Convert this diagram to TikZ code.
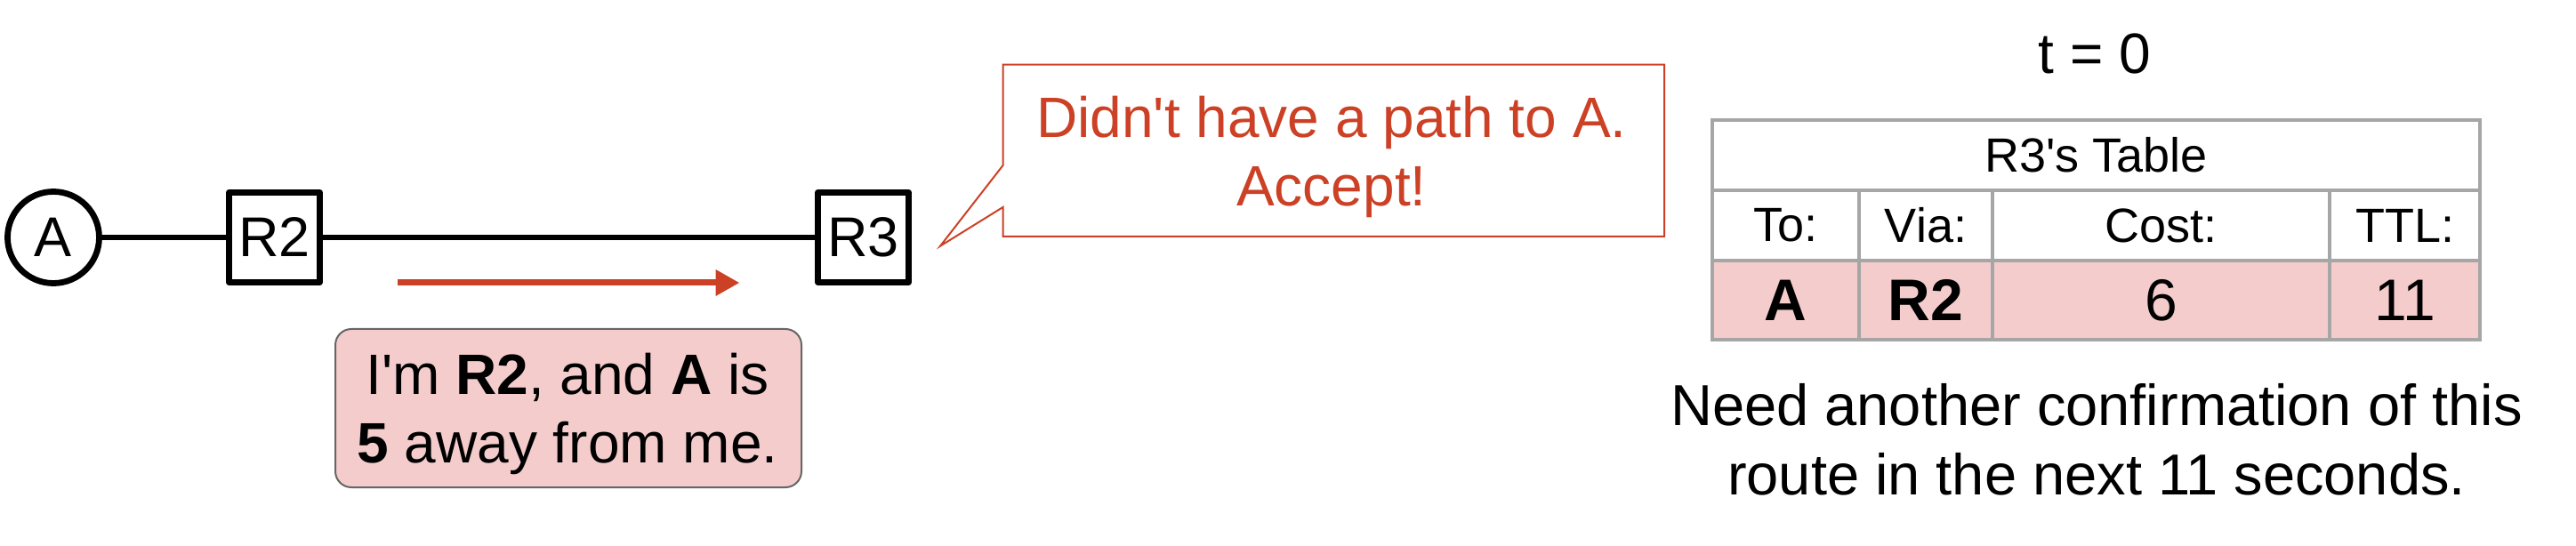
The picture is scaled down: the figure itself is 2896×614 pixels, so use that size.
\documentclass[tikz,border=0pt]{standalone}
\usepackage{fontspec}
\setmainfont{Liberation Sans}[Ligatures=TeXOff]
\usetikzlibrary{arrows.meta}
\definecolor{redc}{HTML}{CC4125}
\definecolor{pinkc}{HTML}{F4CCCC}
\definecolor{grayb}{HTML}{666666}
\definecolor{tblb}{HTML}{A6A6A6}
\begin{document}
\begin{tikzpicture}[x=0.5pt,y=-0.5pt,
  netnode/.style={draw, line width=3.4pt, line join=round, inner sep=0pt, font=\fontsize{31.5}{36}\selectfont},
  router/.style={netnode, rectangle, minimum width=51pt, minimum height=50.5pt},
  host/.style={netnode, circle, minimum size=51.5pt},
  link/.style={line width=3pt},
  msgbox/.style={draw=grayb, fill=pinkc, line width=1pt, rounded corners=9pt, minimum width=262pt, minimum height=89pt, inner sep=0pt},
  msgtext/.style={align=center, inner sep=0pt, font=\fontsize{32}{38.5}\selectfont},
  cell/.style={draw=tblb, line width=1.6pt, inner sep=0pt, outer sep=0pt, font=\fontsize{27}{32}\selectfont, minimum height=39.5pt},
  dcell/.style={cell, fill=pinkc, minimum height=44.5pt, font=\fontsize{33}{38}\selectfont}
]
\useasboundingbox (0,0) rectangle (2896,614);

% network
\node[host] (A) at (60,267) {A};
\node[router] (R2) at (308.5,267) {R2};
\node[router] (R3) at (970.5,267) {R3};
\draw[link] (A) -- (R2);
\draw[link] (R2) -- (R3);

% red arrow
\coordinate (arS) at (447,318);
\coordinate (arE) at (831.5,318);
\draw[redc, line width=3.5pt, -{Triangle[length=13.5pt,width=14pt]}] (arS) -- (arE);

% message box
\node[msgbox] (msg) at (639,459) {};
\node[msgtext] (msgt) at (638,465) {I'm \textbf{R2}, and \textbf{A} is\\\textbf{5} away from me.};

% callout
\draw[redc, line width=1pt, fill=white] (1127.5,72.7) -- (1871,72.7) -- (1871,266) -- (1127.5,266) -- (1127.5,233) -- (1057,276.7) -- (1127.5,186) -- cycle;
\node[msgtext, text=redc] (say) at (1497,176) {Didn't have a path to A.\\Accept!};

% time
\node[anchor=base, inner sep=0pt, font=\fontsize{32}{38}\selectfont] (time) at (2355,83) {t = 0};

% table
\node[cell, minimum width=431.5pt] (title) at (2356.5,174.5) {R3's Table};
\node[cell, minimum width=82.5pt] (hTo) at (2007.5,253.5) {To:};
\node[cell, minimum width=75pt] (hVia) at (2165,253.5) {Via:};
\node[cell, minimum width=189.5pt] (hCost) at (2429.5,253.5) {Cost:};
\node[cell, minimum width=84.5pt] (hTTL) at (2703.5,253.5) {TTL:};
\node[dcell, minimum width=82.5pt] (dTo) at (2007.5,337.5) {\textbf{A}};
\node[dcell, minimum width=75pt] (dVia) at (2165,337.5) {\textbf{R2}};
\node[dcell, minimum width=189.5pt] (dCost) at (2429.5,337.5) {6};
\node[dcell, minimum width=84.5pt] (dTTL) at (2703.5,337.5) {11};

% note
\node[align=center, inner sep=0pt, font=\fontsize{32.5}{39}\selectfont] (note) at (2357,494) {Need another confirmation of this\\route in the next 11 seconds.};
\end{tikzpicture}
\end{document}
